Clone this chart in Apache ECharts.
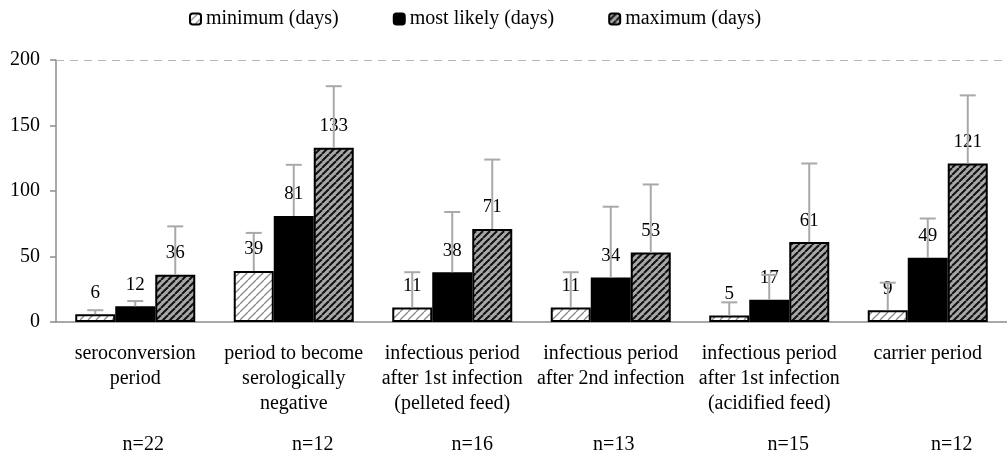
<!DOCTYPE html>
<html>
<head>
<meta charset="utf-8">
<script src="https://cdn.jsdelivr.net/npm/echarts@6/dist/echarts.min.js"></script>
<style>
    html, body {margin: 0; padding: 0; background: #fff;}
    #chart {width: 1007px; height: 460px;}
</style>
</head>
<body>
<div id="chart"></div>
<script>
    // categories and sample sizes
    var categories = [
        'seroconversion\nperiod',
        'period to become\nserologically\nnegative',
        'infectious period\nafter 1st infection\n(pelleted feed)',
        'infectious period\nafter 2nd infection',
        'infectious period\nafter 1st infection\n(acidified feed)',
        'carrier period'
    ];
    var sampleSizes = ['n=22', 'n=12', 'n=16', 'n=13', 'n=15', 'n=12'];

    // bar values (days)
    var minimumDays = [6, 39, 11, 11, 5, 9];
    var mostLikelyDays = [12, 81, 38, 34, 17, 49];
    var maximumDays = [36, 133, 71, 53, 61, 121];

    // upper end of the error whiskers
    var minimumUpper = [9, 68, 38, 38, 15, 30];
    var mostLikelyUpper = [16, 120, 84, 88, 36, 79];
    var maximumUpper = [73, 180, 124, 105, 121, 173];

    var yTicks = {min: 0, max: 200, interval: 50};

    // n= labels sit a bit right of the category centre, not evenly
    var nShift = [8, 19, 20, 3, 19, 24];

    var FONT = '"Liberation Serif", "Times New Roman", serif';
    var BAR_W = 40;

    function hatch(bg, fg, size, width) {
        var c = document.createElement('canvas');
        c.width = c.height = size;
        var g = c.getContext('2d');
        g.fillStyle = bg;
        g.fillRect(0, 0, size, size);
        g.strokeStyle = fg;
        g.lineWidth = width;
        [-size, 0, size].forEach(function (o) {
            g.beginPath();
            g.moveTo(o, size);
            g.lineTo(o + size, 0);
            g.stroke();
        });
        return c;
    }

    var minPattern = {image: hatch('#ffffff', '#8a8a8a', 8, 1.3), repeat: 'repeat'};
    var maxPattern = {image: hatch('#a8a8a8', '#111111', 7, 2), repeat: 'repeat'};

    function barSeries(name, values, fill) {
        return {
            name: name,
            type: 'bar',
            barWidth: BAR_W,
            barGap: '0%',
            data: values,
            itemStyle: {color: fill, borderColor: '#000', borderWidth: 2},
            label: {
                show: true,
                position: 'top',
                distance: 12,
                color: '#000',
                fontFamily: FONT,
                fontSize: 19
            }
        };
    }

    function errorSeries(name, values, upper, k) {
        var data = values.map(function (v, i) { return [i, v, upper[i]]; });
        return {
            name: name,
            type: 'custom',
            z: 5,
            silent: true,
            data: data,
            renderItem: function (params, api) {
                var base = api.coord([api.value(0), api.value(1)]);
                var top = api.coord([api.value(0), api.value(2)]);
                var x = base[0] + (k - 1) * BAR_W;
                var st = {stroke: '#a9a9a9', lineWidth: 2};
                return {
                    type: 'group',
                    children: [
                        {type: 'line', shape: {x1: x, y1: base[1], x2: x, y2: top[1]}, style: st},
                        {type: 'line', shape: {x1: x - 8, y1: top[1], x2: x + 8, y2: top[1]}, style: st}
                    ]
                };
            }
        };
    }

    var nRich = {};
    nShift.forEach(function (s, i) {
        nRich['n' + i] = {fontFamily: FONT, fontSize: 20, color: '#000', padding: [0, 0, 0, s * 2]};
    });

    var chart = echarts.init(document.getElementById('chart'));
    var option = {
        animation: false,
        backgroundColor: '#fff',
        textStyle: {fontFamily: FONT},
        legend: {
            data: ['minimum (days)', 'most likely (days)', 'maximum (days)'],
            left: 184,
            top: 4,
            itemWidth: 11,
            itemHeight: 11,
            itemGap: 54,
            textStyle: {fontFamily: FONT, fontSize: 20, color: '#000'}
        },
        grid: {left: 56, right: -4, top: 60, bottom: 138},
        xAxis: [{
            type: 'category',
            data: categories,
            axisLine: {lineStyle: {color: '#8c8c8c', width: 1.5}},
            axisTick: {length: 5, lineStyle: {color: '#8c8c8c', width: 1.5}},
            axisLabel: {
                interval: 0,
                margin: 19,
                fontFamily: FONT,
                fontSize: 20,
                lineHeight: 25,
                color: '#000'
            }
        }, {
            type: 'category',
            position: 'bottom',
            offset: 100,
            data: sampleSizes,
            axisLine: {show: false},
            axisTick: {show: false},
            axisLabel: {
                interval: 0,
                margin: 13,
                formatter: function (v, i) { return '{n' + i + '|' + v + '}'; },
                rich: nRich
            }
        }],
        yAxis: {
            type: 'value',
            min: yTicks.min,
            max: yTicks.max,
            interval: yTicks.interval,
            axisLine: {show: true, lineStyle: {color: '#8c8c8c', width: 1.5}},
            axisTick: {show: true, length: 6, lineStyle: {color: '#8c8c8c', width: 1.5}},
            splitLine: {show: false},
            axisLabel: {fontFamily: FONT, fontSize: 20, color: '#000', margin: 16}
        },
        series: [
            barSeries('minimum (days)', minimumDays, minPattern),
            barSeries('most likely (days)', mostLikelyDays, '#000'),
            barSeries('maximum (days)', maximumDays, maxPattern),
            errorSeries('min err', minimumDays, minimumUpper, 0),
            errorSeries('ml err', mostLikelyDays, mostLikelyUpper, 1),
            errorSeries('max err', maximumDays, maximumUpper, 2)
        ]
    };
    // dashed line across the top at 200
    option.series[0].markLine = {
        silent: true,
        symbol: 'none',
        label: {show: false},
        lineStyle: {color: '#b5b5b5', type: [8, 6], width: 1.2},
        data: [{yAxis: yTicks.max}]
    };
    chart.setOption(option);
</script>
</body>
</html>
